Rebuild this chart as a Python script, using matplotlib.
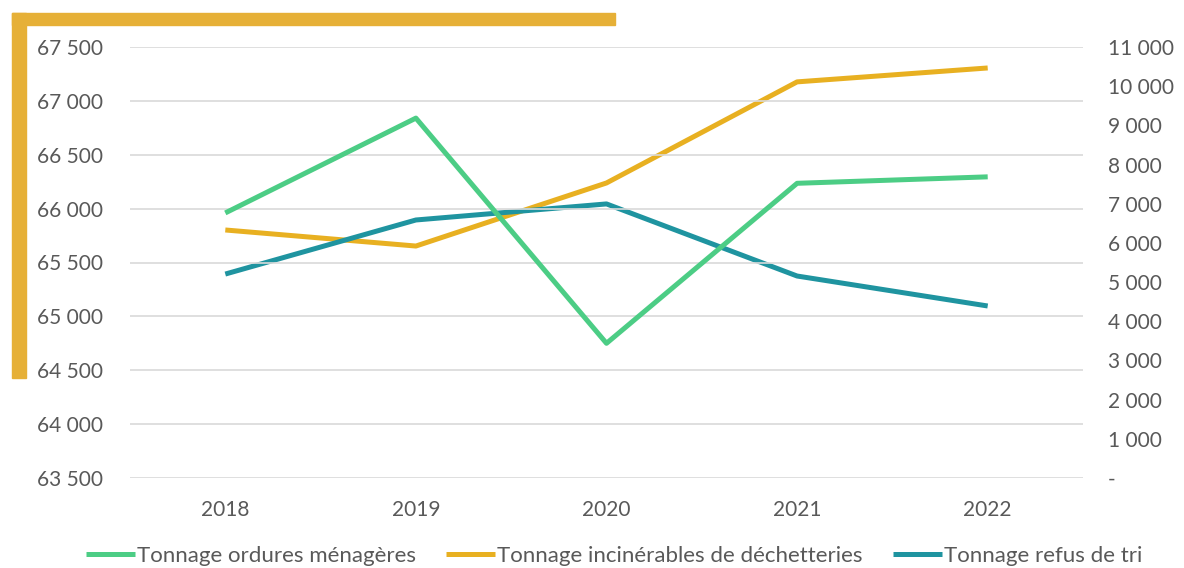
import matplotlib.pyplot as plt
import matplotlib.patches as mpatches
from matplotlib.ticker import FuncFormatter

plt.rcParams['font.family'] = ['Lato', 'DejaVu Sans']

years = ['2018', '2019', '2020', '2021', '2022']
ordures_menageres = [65960, 66840, 64750, 66235, 66295]
incinerables = [6330, 5920, 7530, 10110, 10465]
refus_de_tri = [5205, 6585, 6995, 5155, 4390]

green = '#4ccd85'
gold = '#e8b021'
teal = '#1f94a0'
text_grey = '#595959'


def spaced(v, pos=None):
    if v == 0:
        return '-'
    return f'{int(round(v)):,}'.replace(',', ' ')


fig = plt.figure(figsize=(11.84, 5.68), dpi=100)
ax = fig.add_axes([130 / 1184, 1 - 478 / 568, 953 / 1184, 431 / 568])
ax2 = ax.twinx()

x = range(len(years))
l1, = ax.plot(x, ordures_menageres, color=green, lw=3.6, solid_capstyle='butt',
              label='Tonnage ordures ménagères', zorder=3)
l2, = ax2.plot(x, incinerables, color=gold, lw=3.6, solid_capstyle='butt',
               label='Tonnage incinérables de déchetteries')
l3, = ax2.plot(x, refus_de_tri, color=teal, lw=3.6, solid_capstyle='butt',
               label='Tonnage refus de tri')

ax.set_xlim(-0.5, 4.5)
ax.set_ylim(63500, 67500)
ax.set_yticks(range(63500, 67501, 500))
ax2.set_ylim(0, 11000)
ax2.set_yticks(range(0, 11001, 1000))
ax.yaxis.set_major_formatter(FuncFormatter(spaced))
ax2.yaxis.set_major_formatter(FuncFormatter(spaced))
ax.set_xticks(list(x))
ax.set_xticklabels(years)

ax.grid(axis='y', color='#d9d9d9', lw=1.2)
ax.set_axisbelow(True)
for a in (ax, ax2):
    for s in a.spines.values():
        s.set_visible(False)
    a.tick_params(length=0, labelsize=15, labelcolor=text_grey)
ax.tick_params(axis='y', pad=19.5)
ax2.tick_params(axis='y', pad=18)
ax.tick_params(axis='x', pad=16)
# put the green line above the right-axis lines
ax.set_zorder(ax2.get_zorder() + 1)
ax.patch.set_visible(False)

fig.legend(handles=[l1, l2, l3], loc='center', bbox_to_anchor=(614 / 1184, 1 - 556 / 568),
           ncol=3, frameon=False, fontsize=16, handlelength=2.2, handletextpad=0.1,
           columnspacing=1.35, labelcolor=text_grey)

# gold frame decoration in the top-left corner
fig.patches.append(mpatches.Rectangle((12 / 1184, 1 - 25 / 568), 603 / 1184, 12 / 568,
                                      transform=fig.transFigure, color='#e6b037', zorder=0))
fig.patches.append(mpatches.Rectangle((12 / 1184, 1 - 378 / 568), 14 / 1184, 365 / 568,
                                      transform=fig.transFigure, color='#e6b037', zorder=0))

fig.savefig('out.png', dpi=100)
